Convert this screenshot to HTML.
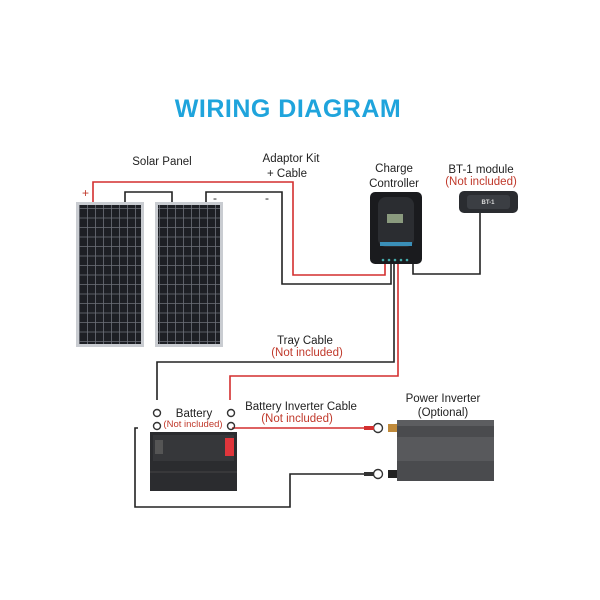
<!DOCTYPE html>
<html><head><style>body{margin:0;background:#fff}svg{display:block}text{font-family:"Liberation Sans",sans-serif}</style></head><body>
<svg width="600" height="600" viewBox="0 0 600 600">
<defs>
<pattern id="cells" width="8" height="9.5" patternUnits="userSpaceOnUse"><rect width="8" height="9.5" fill="#1d1f24"/><path d="M7.5 0V9.5M0 9H8" stroke="#6d7078" stroke-width="0.8"/></pattern>
</defs>
<text x="288" y="117" text-anchor="middle" font-size="25" font-weight="bold" fill="#1fa4dc" letter-spacing="0.5">WIRING DIAGRAM</text>
<g font-size="11.5" fill="#222" text-anchor="middle">
<text x="162" y="165">Solar Panel</text>
<text x="291" y="162">Adaptor Kit</text>
<text x="287" y="177">+ Cable</text>
<text x="394" y="172">Charge</text>
<text x="394" y="187">Controller</text>
<text x="481" y="173">BT-1 module</text>
<text x="481" y="185" fill="#c0392b">(Not included)</text>
<text x="305" y="344">Tray Cable</text>
<text x="307" y="356" fill="#c0392b">(Not included)</text>
<text x="194" y="417">Battery</text>
<text x="193" y="427" font-size="9.5" fill="#c0392b">(Not included)</text>
<text x="301" y="410">Battery Inverter Cable</text>
<text x="297" y="422" fill="#c0392b">(Not included)</text>
<text x="443" y="402">Power Inverter</text>
<text x="443" y="416">(Optional)</text>
</g>
<text x="82" y="197" font-size="12" fill="#c0392b">+</text>
<text x="213" y="202" font-size="12" fill="#222">-</text>
<text x="265" y="202" font-size="12" fill="#222">-</text>
<rect x="76" y="202" width="68" height="145" fill="#c9ccd1"/>
<rect x="79" y="205" width="62" height="139" fill="url(#cells)"/>
<rect x="155" y="202" width="68" height="145" fill="#c9ccd1"/>
<rect x="158" y="205" width="62" height="139" fill="url(#cells)"/>
<g fill="none" stroke-width="1.6">
<path d="M93 202V182H293V275H385V262" stroke="#d32f2f"/>
<path d="M125 202V192H172V202" stroke="#222"/>
<path d="M206 202V192H282V284H391V262" stroke="#222"/>
<path d="M480 212V274H413V262" stroke="#222"/>
<path d="M394 262V362H157V400" stroke="#222"/>
<path d="M398 262V376H230V400" stroke="#d32f2f"/>
<path d="M232 428H364" stroke="#d32f2f"/>
<path d="M138 428H135V507H290V474H364" stroke="#222"/>
</g>
<rect x="370" y="192" width="52" height="72" rx="5" fill="#1a1b1e"/>
<rect x="378" y="197" width="36" height="50" rx="8" fill="#2b2d31"/>
<rect x="387" y="214" width="16" height="9" fill="#8a9a7e"/>
<rect x="380" y="242" width="32" height="4" fill="#3a8fb8"/>
<g fill="#4aa"><circle cx="383" cy="260" r="1.3"/><circle cx="389" cy="260" r="1.3"/><circle cx="395" cy="260" r="1.3"/><circle cx="401" cy="260" r="1.3"/><circle cx="407" cy="260" r="1.3"/></g>
<rect x="459" y="191" width="59" height="22" rx="5" fill="#2a2c30"/>
<rect x="467" y="195" width="43" height="14" rx="3" fill="#3b3e43"/>
<text x="488" y="204" font-size="6" fill="#ddd" text-anchor="middle" font-weight="bold">BT-1</text>
<rect x="150" y="432" width="87" height="59" fill="#2b2c2f"/>
<rect x="153" y="435" width="81" height="26" fill="#36373a"/>
<rect x="155" y="440" width="8" height="14" fill="#555"/>
<rect x="225" y="438" width="9" height="18" fill="#e0353b"/>
<line x1="150" y1="472" x2="237" y2="472" stroke="#444"/>
<g fill="none" stroke="#333" stroke-width="1.4">
<circle cx="157" cy="413" r="3.5"/><circle cx="157" cy="426" r="3.5"/>
<circle cx="231" cy="413" r="3.5"/><circle cx="231" cy="426" r="3.5"/>
<circle cx="378" cy="428" r="4.5"/><circle cx="378" cy="474" r="4.5"/>
</g>
<rect x="364" y="426" width="10" height="4" fill="#d32f2f"/>
<rect x="364" y="472" width="10" height="4" fill="#333"/>
<rect x="397" y="420" width="97" height="61" fill="#4a4b4e"/>
<rect x="397" y="420" width="97" height="6" fill="#5c5d60"/>
<rect x="397" y="437" width="97" height="24" fill="#58595c"/>
<rect x="388" y="424" width="9" height="8" fill="#c08a3a"/>
<rect x="388" y="470" width="9" height="8" fill="#222"/>
</svg>
</body></html>
